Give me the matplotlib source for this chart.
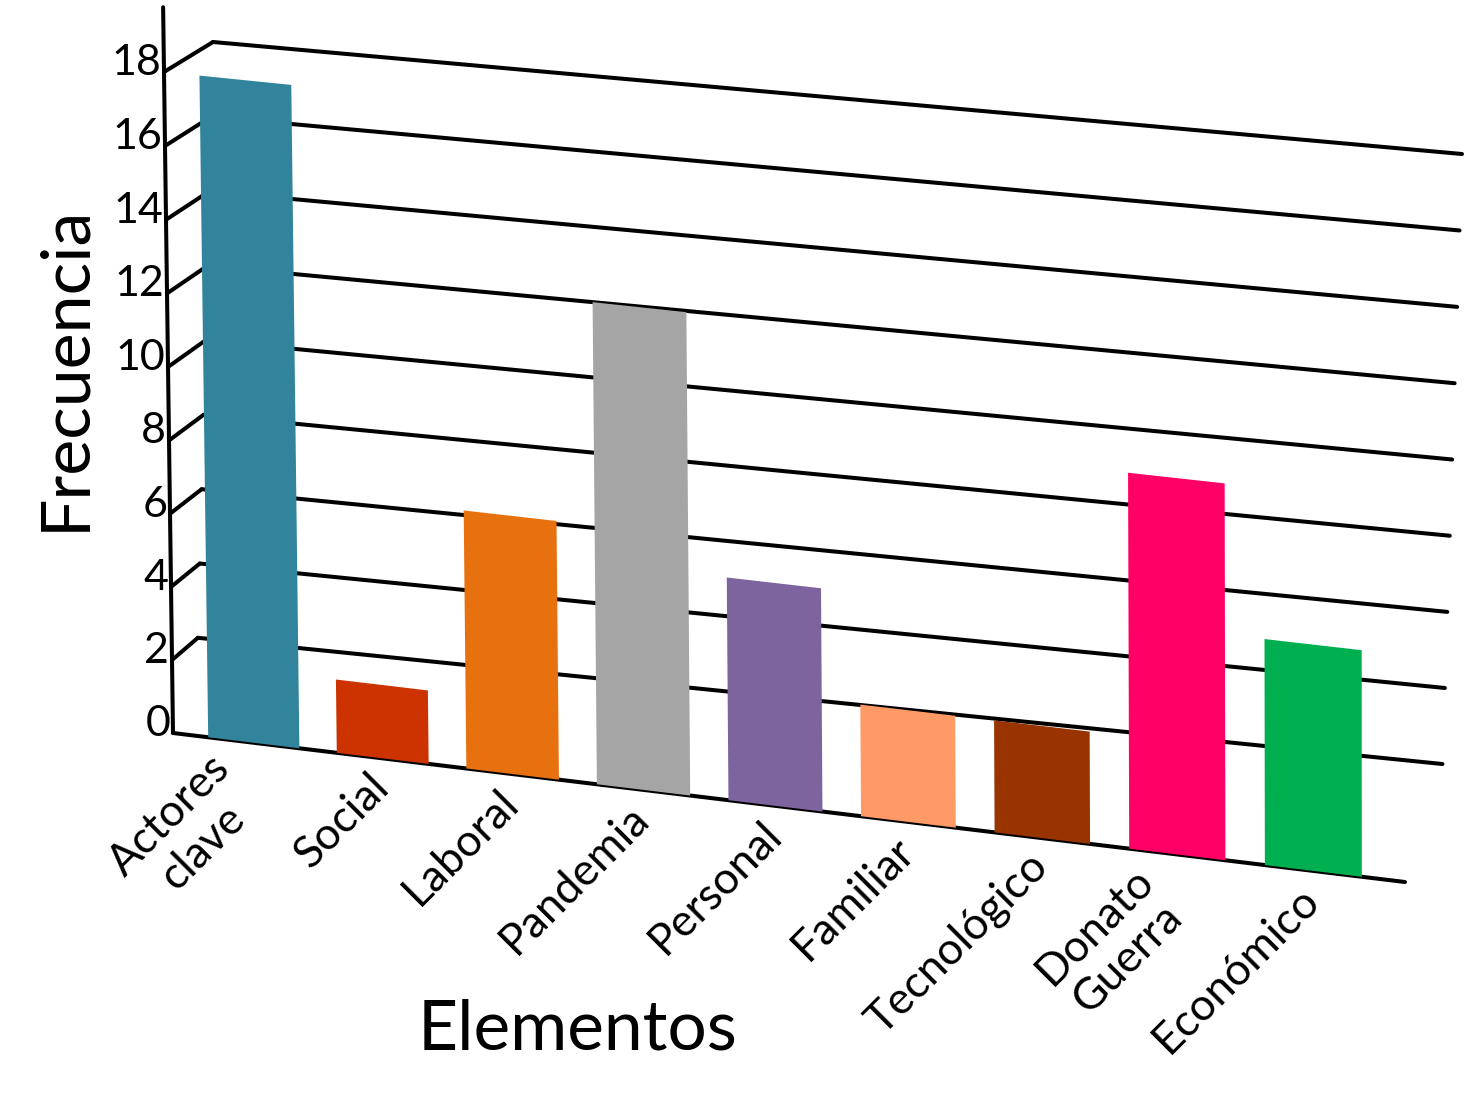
import numpy as np
import matplotlib
matplotlib.use("Agg")
import matplotlib.pyplot as plt
import matplotlib.transforms as mtransforms

# ---------------- data ----------------
categories = ["Actores\nclave", "Social", "Laboral", "Pandemia", "Personal",
              "Familiar", "Tecnológico", "Donato\nGuerra", "Económico"]
frecuencia = [18, 2, 7, 13, 6, 3, 3, 10, 6]
bar_colors = ["#31849B", "#CC3300", "#E8710F", "#A5A5A5", "#7E649E",
              "#FF9966", "#993300", "#FF0066", "#00B050"]
y_ticks = [0, 2, 4, 6, 8, 10, 12, 14, 16, 18]
x_title = "Elementos"
y_title = "Frecuencia"

# ---------------- layout (pseudo-3D projection) ----------------
W, H = 1470, 1108
U0, U1 = -0.63, 8.67         # category-axis extent
V_TOP = 19.75                # top of the vertical axis line
FRONT = {(U0, 0): (173, 733), (U0, 18): (164, 72),
         (U1, 0): (1405, 882), (U1, 18): (1405, 198)}
BACK = {(U0, 0): (196, 712), (U0, 18): (213, 42),
        (U1, 0): (1440, 840), (U1, 18): (1462, 154)}

FONT = ["Lato", "DejaVu Sans"]
plt.rcParams["font.family"] = FONT


def homography(corr):
    A, b = [], []
    for (x, y), (X, Y) in corr.items():
        A.append([x, y, 1, 0, 0, 0, -X * x, -X * y]); b.append(X)
        A.append([0, 0, 0, x, y, 1, -Y * x, -Y * y]); b.append(Y)
    h = np.linalg.solve(np.array(A, float), np.array(b, float))
    return np.append(h, 1.0).reshape(3, 3)


def apply_h(Hm, pts):
    pts = np.atleast_2d(np.asarray(pts, float))
    p = np.column_stack([pts, np.ones(len(pts))]) @ Hm.T
    return p[:, :2] / p[:, 2:3]


class FuncTransform(mtransforms.Transform):
    input_dims = 2
    output_dims = 2
    is_separable = False
    has_inverse = False

    def __init__(self, func):
        super().__init__()
        self._func = func

    def transform_non_affine(self, values):
        return self._func(np.asarray(values, float))


HF = homography(FRONT)
HB = homography(BACK)

pix2disp = mtransforms.Affine2D().scale(1, -1).translate(0, H)
T_front = FuncTransform(lambda v: apply_h(HF, v)) + pix2disp
T_back = FuncTransform(lambda v: apply_h(HB, v)) + pix2disp


def side(vals):
    vals = np.atleast_2d(vals)
    d = vals[:, :1]
    uv = np.column_stack([np.full(len(vals), U0), vals[:, 1]])
    return (1 - d) * apply_h(HF, uv) + d * apply_h(HB, uv)


T_side = FuncTransform(side) + pix2disp

fig = plt.figure(figsize=(W / 100, H / 100), dpi=100)
ax = fig.add_axes([0, 0, 1, 1])
ax.set_axis_off()
ax.set_xlim(0, 1)
ax.set_ylim(0, 1)

LW = 2.9
# back-wall gridlines and depth ticks
for v in y_ticks[1:]:
    ax.plot([U0, U1], [v, v], transform=T_back, color="black", lw=LW,
            solid_capstyle="round", zorder=1)
    ax.plot([0, 1], [v, v], transform=T_side, color="black", lw=LW,
            solid_capstyle="round", zorder=1)

# front axis line and baseline
ax.plot([U0, U0], [0, V_TOP], transform=T_front, color="black", lw=LW,
        solid_capstyle="round", zorder=2)
ax.plot([U0, U1], [0, 0], transform=T_front, color="black", lw=LW,
        solid_capstyle="round", zorder=2)

# bars
x = np.arange(len(categories))
ax.bar(x, frecuencia, width=0.71, color=bar_colors, linewidth=0,
       transform=T_front, zorder=3)

# y tick labels
for v in y_ticks:
    ax.annotate(str(v), xy=(0, v), xycoords=T_side, xytext=(-2, 6.5),
                textcoords="offset points", ha="right", va="center",
                fontsize=31, color="black")

# category labels (rotated 45 degrees, right end near the baseline)
for i, lab in enumerate(categories):
    off = (-0.5, -16) if "\n" not in lab else (-10, -25.5)
    ax.annotate(lab, xy=(i, 0), xycoords=T_front, xytext=off,
                textcoords="offset points", ha="right", va="center",
                rotation=45, rotation_mode="anchor", multialignment="center",
                fontsize=32, color="black", linespacing=1.15)

fig.text(65 / W, 1 - 368 / H, y_title, rotation=90, ha="center", va="center",
         fontsize=49, color="black")
fig.text(578 / W, 1 - 1030 / H, x_title, ha="center", va="center",
         fontsize=50, color="black")

fig.savefig("out.png", dpi=100, facecolor="white")
